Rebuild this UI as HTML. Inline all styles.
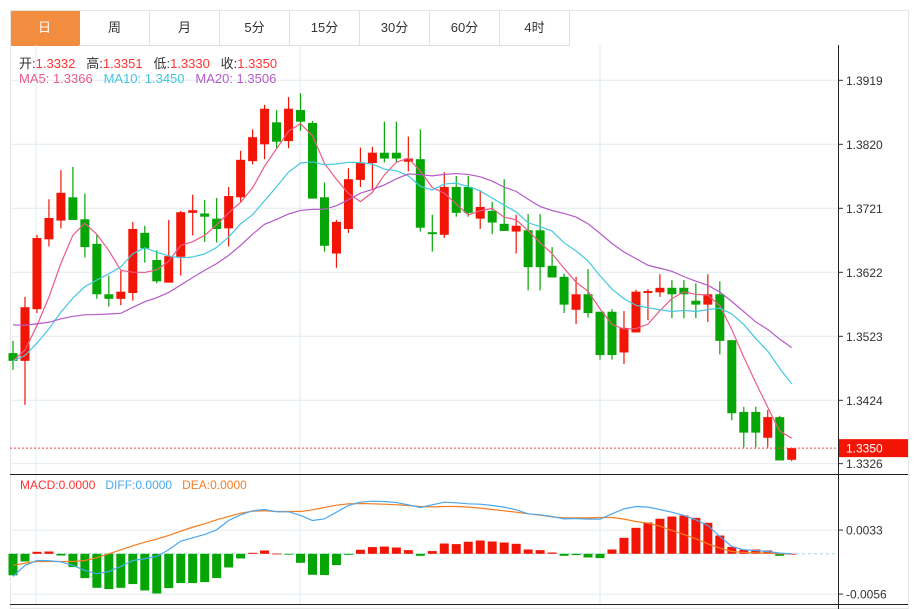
<!DOCTYPE html>
<html><head><meta charset="utf-8"><style>
body{margin:0;background:#fff;width:918px;height:609px;overflow:hidden;font-family:"Liberation Sans","Noto Sans CJK SC",sans-serif}
.tabs{position:absolute;left:10px;top:10px;height:35px;display:flex}
.tab{width:69px;height:34px;border:1px solid #e0e0e0;border-left:none;font-size:13px;color:#333;text-align:center;line-height:34px;box-sizing:content-box}
.tab.on{background:#f28c3e;color:#fff;border-color:#f28c3e;border-radius:2px}
svg{position:absolute;left:0;top:0}
</style></head><body>
<div class="tabs">
<div class="tab on">日</div>
<div class="tab">周</div>
<div class="tab">月</div>
<div class="tab">5分</div>
<div class="tab">15分</div>
<div class="tab">30分</div>
<div class="tab">60分</div>
<div class="tab">4时</div>
</div>
<svg id="c" width="918" height="609"></svg>
<script>
const opens=[1.3497,1.3485,1.3565,1.3673,1.3702,1.3738,1.3704,1.3666,1.3588,1.3581,1.3590,1.3683,1.3641,1.3606,1.3646,1.3714,1.3713,1.3705,1.3690,1.3738,1.3794,1.3820,1.3854,1.3825,1.3873,1.3853,1.3738,1.3651,1.3689,1.3765,1.3791,1.3807,1.3807,1.3793,1.3797,1.3684,1.3680,1.3754,1.3754,1.3705,1.3717,1.3697,1.3685,1.3687,1.3687,1.3632,1.3615,1.3564,1.3588,1.3561,1.3561,1.3498,1.3529,1.3590,1.3591,1.3598,1.3598,1.3578,1.3572,1.3588,1.3517,1.3406,1.3406,1.3366,1.3398,1.3332];
const highs=[1.3516,1.3584,1.3680,1.3735,1.3780,1.3785,1.3744,1.3680,1.3617,1.3624,1.3700,1.3694,1.3656,1.3703,1.3717,1.3742,1.3734,1.3737,1.3754,1.3810,1.3843,1.3881,1.3873,1.3893,1.3899,1.3856,1.3761,1.3703,1.3783,1.3815,1.3816,1.3855,1.3855,1.3832,1.3843,1.3711,1.3777,1.3771,1.3771,1.3749,1.3731,1.3766,1.3711,1.3712,1.3712,1.3661,1.3620,1.3615,1.3627,1.3561,1.3565,1.3562,1.3595,1.3596,1.3619,1.3610,1.3610,1.3605,1.3619,1.3608,1.3517,1.3414,1.3414,1.3409,1.3400,1.3351];
const lows=[1.3471,1.3417,1.3559,1.3662,1.3690,1.3703,1.3645,1.3581,1.3569,1.3571,1.3578,1.3637,1.3605,1.3606,1.3617,1.3679,1.3669,1.3668,1.3662,1.3730,1.3789,1.3797,1.3814,1.3814,1.3841,1.3736,1.3654,1.3629,1.3683,1.3754,1.3749,1.3792,1.3792,1.3778,1.3685,1.3654,1.3675,1.3708,1.3708,1.3689,1.3681,1.3686,1.3651,1.3594,1.3594,1.3614,1.3559,1.3542,1.3552,1.3487,1.3487,1.3480,1.3529,1.3548,1.3584,1.3551,1.3551,1.3551,1.3545,1.3495,1.3393,1.3351,1.3351,1.3351,1.3331,1.3330];
const closes=[1.3485,1.3568,1.3675,1.3706,1.3745,1.3703,1.3661,1.3588,1.3581,1.3592,1.3689,1.3659,1.3608,1.3647,1.3715,1.3718,1.3708,1.3689,1.3740,1.3796,1.3831,1.3875,1.3824,1.3875,1.3855,1.3736,1.3663,1.3700,1.3766,1.3792,1.3807,1.3798,1.3798,1.3798,1.3691,1.3681,1.3754,1.3714,1.3714,1.3723,1.3699,1.3686,1.3694,1.3630,1.3630,1.3614,1.3572,1.3588,1.3559,1.3494,1.3494,1.3536,1.3592,1.3593,1.3598,1.3588,1.3588,1.3572,1.3588,1.3516,1.3404,1.3374,1.3374,1.3398,1.3331,1.3350];
const priorCloses=[1.3579,1.3629,1.3660,1.3638,1.3626,1.3615,1.3579,1.3564,1.3571,1.3502,1.3485,1.3485,1.3485,1.3485,1.3485,1.3485,1.3485,1.3485,1.3485];
const priceTicks=[1.3919,1.3820,1.3721,1.3622,1.3523,1.3424,1.3326];
const macdHist=[-29.9,-10.7,2.8,3.2,-2.4,-18.5,-33.8,-47.3,-49.1,-47.3,-42.1,-51,-55.2,-47.7,-40.7,-40.7,-39.3,-33.8,-19,-6.5,1.4,4.6,0.3,-0.3,-12.5,-29.2,-29.6,-15.7,-1.4,5.6,9.3,10.1,8.8,5.1,-2.8,3.8,14.3,13.5,16.7,18.5,17.1,15.7,13.9,6,5.1,1.8,-2.8,-1.8,-5.1,-6,6,22.2,36.1,43.5,48.7,51.8,53.2,50,43.1,25.4,9.7,5.6,6,4.6,-2.8,0];
const diffVals=[-31.5,-16.2,-9.3,-9.7,-11.1,-16.2,-23.2,-27.8,-24.6,-17.6,-9.3,-6.9,-3.7,5.6,17.6,22.2,26.9,33.4,46.3,54.2,59.8,61.6,58.4,58.4,53.3,46.3,48.6,57.9,67.2,71.8,73.2,72.7,71.3,68.1,64.4,68.1,71.8,70.9,69.5,69,67.2,64.9,61.2,55.6,54.2,51.9,48.6,49.1,48.2,48.2,55.6,62.5,65.8,64.9,61.6,57.9,53.3,47.2,39.4,24.1,10.2,5.6,4.6,3.2,0.9,0];
const deaVals=[-16.2,-13,-10.7,-10.7,-10.7,-10.7,-9.3,-5.6,0,5.6,11.1,16.2,20.4,25.5,31.5,37.1,41.7,47.3,51.9,56.5,59.3,59.8,58.8,58.8,58.8,61.2,64.4,67.6,69.5,70,69.5,69,68.1,67.2,65.8,65.3,65.8,65.8,64.9,63.5,61.6,59.8,57.9,55.6,53.7,51.4,50,50,50,50.5,50.5,48.2,44.9,42.6,38.5,32.4,26.9,20.8,13.9,7.9,3.2,1.9,1.4,0.9,0,0];
const macdTicks=[0.0033,-0.0056];

const NS='http://www.w3.org/2000/svg',svg=document.getElementById('c');
function mk(t,a,p){const e=document.createElementNS(NS,t);for(const k in a)e.setAttribute(k,a[k]);(p||svg).appendChild(e);return e;}
const xAt=i=>13+11.98*i;
const yP=p=>80.3+(1.3919-p)/0.0099*64;
const yM=v=>553.8-v*1e-4*7190;
// frame
mk('rect',{x:10.5,y:10.5,width:898,height:598,fill:'none',stroke:'#e6e6e6'});
// grids
[36,300,600].forEach(x=>{const g=mk('line',{x1:x,x2:x,y1:45,y2:604,stroke:'#e1ebf3'});});
priceTicks.forEach(t=>{const y=yP(t);
 const g=mk('line',{x1:10,x2:838,y1:y,y2:y,stroke:'#e1ebf3'});
 mk('line',{x1:838,x2:843,y1:y,y2:y,stroke:'#333'});
 const tx=mk('text',{x:846,y:y+4.5,'font-size':12,fill:'#333'});tx.textContent=t.toFixed(4);
 });
macdTicks.forEach(t=>{const y=yM(t*1e4);
 const g=mk('line',{x1:10,x2:838,y1:y,y2:y,stroke:'#e1ebf3'});
 mk('line',{x1:838,x2:843,y1:y,y2:y,stroke:'#333'});
 const tx=mk('text',{x:846,y:y+4.5,'font-size':12,fill:'#333'});tx.textContent=t.toFixed(4);
 });
// axes lines
mk('line',{x1:838.5,x2:838.5,y1:45,y2:609,stroke:'#222'});
mk('line',{x1:10,x2:908,y1:474.5,y2:474.5,stroke:'#222'});
mk('line',{x1:10,x2:908,y1:604.5,y2:604.5,stroke:'#222'});
// candles
const n=closes.length;
for(let i=0;i<n;i++){const up=closes[i]>=opens[i],col=up?'#f21505':'#05a505',x=xAt(i);
 const g=mk('g',{});
 mk('line',{x1:x,x2:x,y1:yP(highs[i]),y2:yP(lows[i]),stroke:col,'stroke-width':1.2},g);
 const t=Math.min(yP(opens[i]),yP(closes[i])),b=Math.max(yP(opens[i]),yP(closes[i]));
 mk('rect',{x:x-4.5,y:t,width:9,height:Math.max(1.5,b-t),fill:col},g);}
// MAs
const all=priorCloses.concat(closes);
function ma(k){const r=[];for(let i=0;i<n;i++){let s=0;const j=i+priorCloses.length;for(let q=j-k+1;q<=j;q++)s+=all[q];r.push(s/k);}return r;}
[[5,'#ec5a89','ma5-line'],[10,'#45c8e0','ma10-line'],[20,'#b55bc9','ma20-line']].forEach(([k,c,nm])=>{
 const v=ma(k);const l=mk('polyline',{points:v.map((p,i)=>xAt(i)+','+yP(p)).join(' '),fill:'none',stroke:c,'stroke-width':1.2});
 });
// last price line
const ly=yP(closes[n-1]);
mk('line',{x1:10,x2:838,y1:ly,y2:ly,stroke:'#f44','stroke-dasharray':'2,2'});
const lb=mk('rect',{x:839,y:ly-9,width:69,height:18,fill:'#f21505'});
const lt=mk('text',{x:846,y:ly+4.5,'font-size':12,fill:'#fff'});lt.textContent=closes[n-1].toFixed(4);
// macd zero
mk('line',{x1:10,x2:838,y1:yM(0),y2:yM(0),stroke:'#a8d8e8','stroke-dasharray':'3,3'});
for(let i=0;i<n;i++){const v=macdHist[i],y0=yM(0),y1=yM(v);
 const r=mk('rect',{x:xAt(i)-4.5,y:Math.min(y0,y1),width:9,height:Math.max(0.8,Math.abs(y1-y0)),fill:v>=0?'#f21505':'#05a505'});
 }
[[deaVals,'#f57d20','dea-line'],[diffVals,'#4aa8f0','diff-line']].forEach(([a,c,nm])=>{
 const l=mk('polyline',{points:a.map((v,i)=>xAt(i)+','+yM(v)).join(' '),fill:'none',stroke:c,'stroke-width':1.2});
 });
</script>
<div style="position:absolute;left:19px;top:53px;font-size:13px;color:#333;white-space:nowrap">开:<span style="color:#f33">1.3332</span>&nbsp;&nbsp;&nbsp;高:<span style="color:#f33">1.3351</span>&nbsp;&nbsp;&nbsp;低:<span style="color:#f33">1.3330</span>&nbsp;&nbsp;&nbsp;收:<span style="color:#f33">1.3350</span></div>
<div style="position:absolute;left:19px;top:71px;font-size:13px;white-space:nowrap"><span style="color:#ec5a89">MA5: 1.3366</span>&nbsp;&nbsp;&nbsp;<span style="color:#3fc6de">MA10: 1.3450</span>&nbsp;&nbsp;&nbsp;<span style="color:#b55bc9">MA20: 1.3506</span></div>
<div style="position:absolute;left:20px;top:478px;font-size:12px;white-space:nowrap"><span style="color:#f33">MACD:0.0000</span>&nbsp;&nbsp;&nbsp;<span style="color:#4aa8f0">DIFF:0.0000</span>&nbsp;&nbsp;&nbsp;<span style="color:#f57d20">DEA:0.0000</span></div>
</body></html>
